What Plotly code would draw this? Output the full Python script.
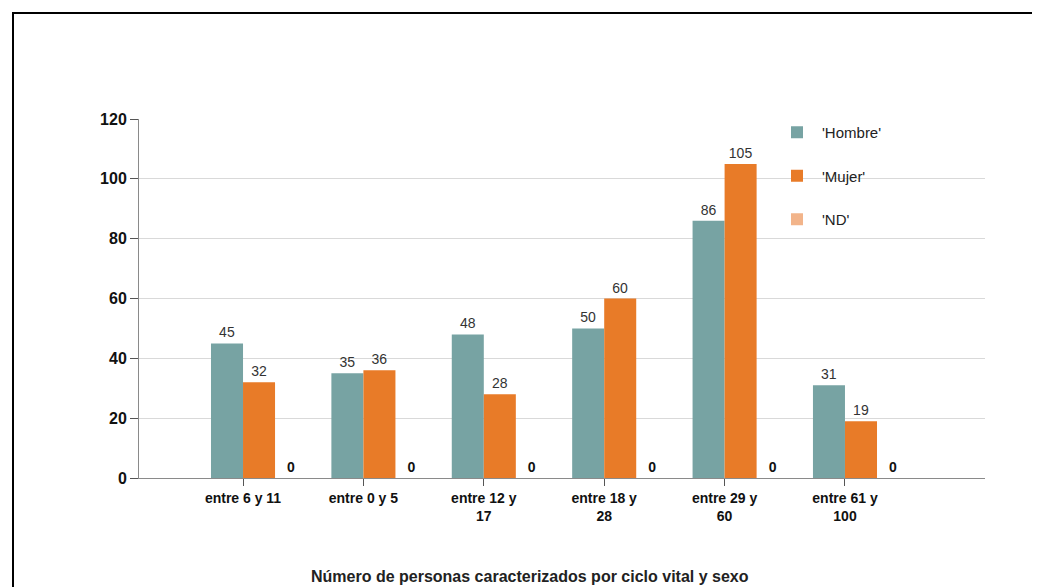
import plotly.graph_objects as go

categories = ["entre 6 y 11", "entre 0 y 5", "entre 12 y<br>17", "entre 18 y<br>28", "entre 29 y<br>60", "entre 61 y<br>100"]
hombre = [45, 35, 48, 50, 86, 31]
mujer = [32, 36, 28, 60, 105, 19]
nd = [0, 0, 0, 0, 0, 0]
series_names = ["'Hombre'", "'Mujer'", "'ND'"]
colors = ["#77A3A3", "#E87B28", "#F2B48A"]
y_ticks = [0, 20, 40, 60, 80, 100, 120]

xpos = list(range(len(categories)))
W = 0.266
offsets = [-W, 0, W]

fig = go.Figure()
for i, (name, vals) in enumerate(zip(series_names, [hombre, mujer, nd])):
    fig.add_trace(go.Bar(
        x=xpos, y=vals, name=name, width=W, offset=offsets[i],
        marker=dict(color=colors[i], line=dict(width=0)),
        text=[(f"<b>{v}</b>" if i == 2 else str(v)) for v in vals],
        textposition="outside", cliponaxis=False,
        textfont=dict(family="Liberation Sans, Arial", size=14,
                      color="#111" if i == 2 else "#333"),
        legendgroup=name,
    ))

# page has an 8px body margin; map page pixels to figure pixels
OFF = 8
FW, FH = 1040, 587
L = 139 - OFF
T = 119 - OFF
R = FW - (985 - OFF)
B = FH - (478 - OFF)
PW, PH = FW - L - R, FH - T - B

def px(x):
    return (x - OFF - L) / PW

def py(y):
    return (FH - B - (y - OFF)) / PH

fig.update_layout(
    width=FW, height=FH,
    margin=dict(l=L, r=R, t=T, b=B),
    paper_bgcolor="white", plot_bgcolor="white",
    barmode="overlay",
    font=dict(family="Liberation Sans, Arial", color="#111"),
    legend=dict(x=px(772), y=py(116), xanchor="left", yanchor="top",
                font=dict(size=15, color="#222"), tracegroupgap=21,
                traceorder="grouped", bgcolor="rgba(0,0,0,0)", itemwidth=40),
    showlegend=True,
)
fig.update_xaxes(
    range=[-0.864, 6.163], tickvals=xpos, ticktext=[f"<b>{c}</b>" for c in categories],
    showline=True, linecolor="#8a8a8a", linewidth=1,
    ticks="outside", ticklen=7, tickcolor="#555",
    tickfont=dict(size=14, color="#111"), showgrid=False, zeroline=False,
)
fig.update_yaxes(
    range=[0, 120], tickvals=y_ticks, ticktext=[f"<b>{v}</b>" for v in y_ticks],
    showline=True, linecolor="#8a8a8a", linewidth=1,
    ticks="outside", ticklen=8, tickcolor="#555",
    gridcolor="#d9d9d9", gridwidth=1, zeroline=False,
    tickfont=dict(size=16, color="#111"),
)
fig.add_annotation(
    text="<b>Número de personas caracterizados por ciclo vital y sexo</b>",
    xref="paper", yref="paper", x=px(530), y=py(576), xanchor="center", yanchor="middle",
    showarrow=False, font=dict(size=16, color="#222"),
)
fig.add_shape(type="rect", xref="paper", yref="paper",
              x0=px(13), x1=px(1060), y0=py(610), y1=py(13),
              line=dict(color="black", width=2), fillcolor="rgba(0,0,0,0)", layer="above")

fig.write_html("out.html")
